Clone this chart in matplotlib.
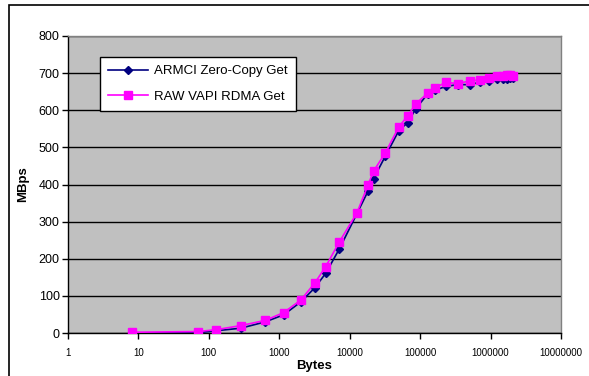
import matplotlib
matplotlib.use('Agg')
import matplotlib.pyplot as plt
from matplotlib.patches import Rectangle
from matplotlib.ticker import FixedLocator, FuncFormatter, NullLocator

plt.rcParams['font.family'] = ['Liberation Sans', 'DejaVu Sans']

# message sizes (bytes)
sizes = [8, 71, 127, 285, 633, 1155, 2030, 3200, 4570, 7100, 12700, 18300,
         21800, 32200, 49800, 66600, 86700, 129000, 163000, 230000, 340000,
         515000, 710000, 950000, 1230000, 1490000, 1700000, 1900000, 2100000]

armci = [0, 1, 6, 13, 30, 49, 84, 122, 161, 226, 322, 383, 416, 477, 545,
         567, 604, 645, 654, 664, 669, 669, 676, 679, 683, 684, 685, 686, 686]

vapi = [2, 4, 9, 20, 34, 55, 89, 135, 179, 245, 324, 400, 436, 486, 555,
        585, 617, 647, 660, 675, 672, 679, 682, 687, 692, 693, 694, 694, 693]

yticks = [0, 100, 200, 300, 400, 500, 600, 700, 800]
xticks = [1, 10, 100, 1000, 10000, 100000, 1000000, 10000000]

W, H = 589, 376
fig = plt.figure(figsize=(W/100, H/100), dpi=100, facecolor='white')
ax = fig.add_axes([68/W, 1 - 333/H, (561-68)/W, (333-36)/H])
ax.set_facecolor('#C0C0C0')

ax.plot(sizes, armci, color='#000080', marker='D', markersize=4.2,
        linewidth=1.2, label='ARMCI Zero-Copy Get', zorder=3)
ax.plot(sizes, vapi, color='#FF00FF', marker='s', markersize=5.8,
        linewidth=1.2, label='RAW VAPI RDMA Get', zorder=4)

ax.set_xscale('log')
ax.set_xlim(1, 1e7)
ax.set_ylim(0, 800)
ax.xaxis.set_major_locator(FixedLocator(xticks))
ax.xaxis.set_minor_locator(NullLocator())
ax.xaxis.set_major_formatter(FuncFormatter(lambda v, p: f'{int(round(v))}'))
ax.set_yticks(yticks)

ax.grid(axis='y', color='black', linewidth=1.0, zorder=1)
ax.set_axisbelow(True)

ax.tick_params(axis='y', labelsize=9, length=4, width=1, direction='out', pad=2)
ax.tick_params(axis='x', labelsize=7, length=4, width=1, direction='out', pad=7)

for s in ['top', 'right']:
    ax.spines[s].set_color('#808080')
    ax.spines[s].set_linewidth(1.0)
for s in ['left', 'bottom']:
    ax.spines[s].set_color('black')
    ax.spines[s].set_linewidth(1.0)

ax.set_xlabel('Bytes', fontsize=9.5, fontweight='bold', labelpad=1)
ax.set_ylabel('MBps', fontsize=9.5, fontweight='bold', labelpad=7)

leg = ax.legend(loc='upper left', bbox_to_anchor=(32/(561-68), 1 - 21/(333-36)),
                fontsize=9.5, frameon=True, fancybox=False, edgecolor='black',
                facecolor='white', framealpha=1, borderpad=0.6,
                handlelength=3.0, handletextpad=0.5, labelspacing=1.0,
                borderaxespad=0)
leg.get_frame().set_linewidth(1.0)

# outer chart border (cut off at right and bottom in the original)
fig.patches.append(Rectangle((9/W, -0.1), 1.2, 1 - 5/H + 0.1,
                             transform=fig.transFigure, fill=False,
                             edgecolor='black', linewidth=1.2, clip_on=False))

fig.savefig('out.png', dpi=100, facecolor='white')
